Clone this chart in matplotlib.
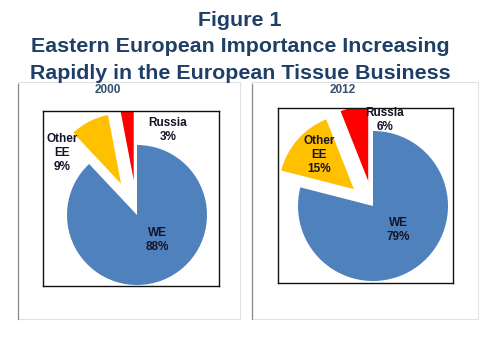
import matplotlib.pyplot as plt
from matplotlib.patches import Rectangle
from matplotlib.lines import Line2D

plt.rcParams['font.family'] = ['Liberation Sans', 'DejaVu Sans']

# data
regions = ["WE", "Other\nEE", "Russia"]
share_2000 = [88, 9, 3]
share_2012 = [79, 15, 6]
years = ["2000", "2012"]
colors = ['#4F81BD', '#FFC000', '#FF0000']

title = "Figure 1\nEastern European Importance Increasing\nRapidly in the European Tissue Business"

W, H = 480, 360
fig = plt.figure(figsize=(4.8, 3.6), dpi=100)
fig.patch.set_facecolor('white')


def px_axes(x0, y0, x1, y1):
    # axes placed by pixel box (top-left origin), 1 data unit = 1 pixel
    ax = fig.add_axes([x0 / W, (H - y1) / H, (x1 - x0) / W, (y1 - y0) / H])
    for s in ax.spines.values():
        s.set_linewidth(1.0)
        s.set_color('#111111')
    return ax


# outer panel frames
for (x0, x1) in [(18, 240), (252, 478)]:
    fig.add_artist(Rectangle((x0 / W, (H - 319) / H), (x1 - x0) / W, (319 - 82) / H,
                             transform=fig.transFigure, fill=False,
                             edgecolor='#e2e2e2', linewidth=0.8))
    fig.add_artist(Line2D([x0 / W, x0 / W], [(H - 319) / H, (H - 84) / H],
                          transform=fig.transFigure, color='#8a8a8a', linewidth=0.9))

panels = [
    dict(box=(43, 111, 219, 286), center=(137, 215), r=70, explode=0.5,
         values=share_2000, year_x=108,
         label_pos=[(157, 240), (62, 153), (168, 130)]),
    dict(box=(278, 108, 453, 283), center=(373, 206), r=75, explode=0.34,
         values=share_2012, year_x=343,
         label_pos=[(398, 230), (319, 155), (385, 120)]),
]

for p, year in zip(panels, years):
    ax = px_axes(*p['box'])
    cx, cy = p['center']
    # explode is in data units in matplotlib, so scale by radius
    ex = [0, p['explode'] * p['r'], p['explode'] * p['r']]
    wedges, _ = ax.pie(p['values'], colors=colors, startangle=90, counterclock=False,
                       center=(cx, H - cy), radius=p['r'], explode=ex, frame=True,
                       wedgeprops=dict(linewidth=0))
    for w in wedges:
        w.set_clip_on(True)
    ax.set_xlim(p['box'][0], p['box'][2])
    ax.set_ylim(H - p['box'][3], H - p['box'][1])
    ax.set_aspect('auto')
    ax.set_xticks([])
    ax.set_yticks([])
    for name, val, (lx, ly) in zip(regions, p['values'], p['label_pos']):
        ax.text(lx, H - ly, f"{name}\n{val}%", ha='center', va='center',
                fontsize=8.5, fontweight='bold', color='#141428', linespacing=1.2)
    fig.text(p['year_x'] / W, 1 - 90 / H, year, ha='center', va='center',
             fontsize=8.5, fontweight='bold', color='#34506e')

fig.text(0.5, 1 - 47 / H, title, ha='center', va='center', fontsize=15.4,
         fontweight='bold', color='#1F3F66', linespacing=1.5)

fig.savefig('out.png', dpi=100, facecolor='white')
